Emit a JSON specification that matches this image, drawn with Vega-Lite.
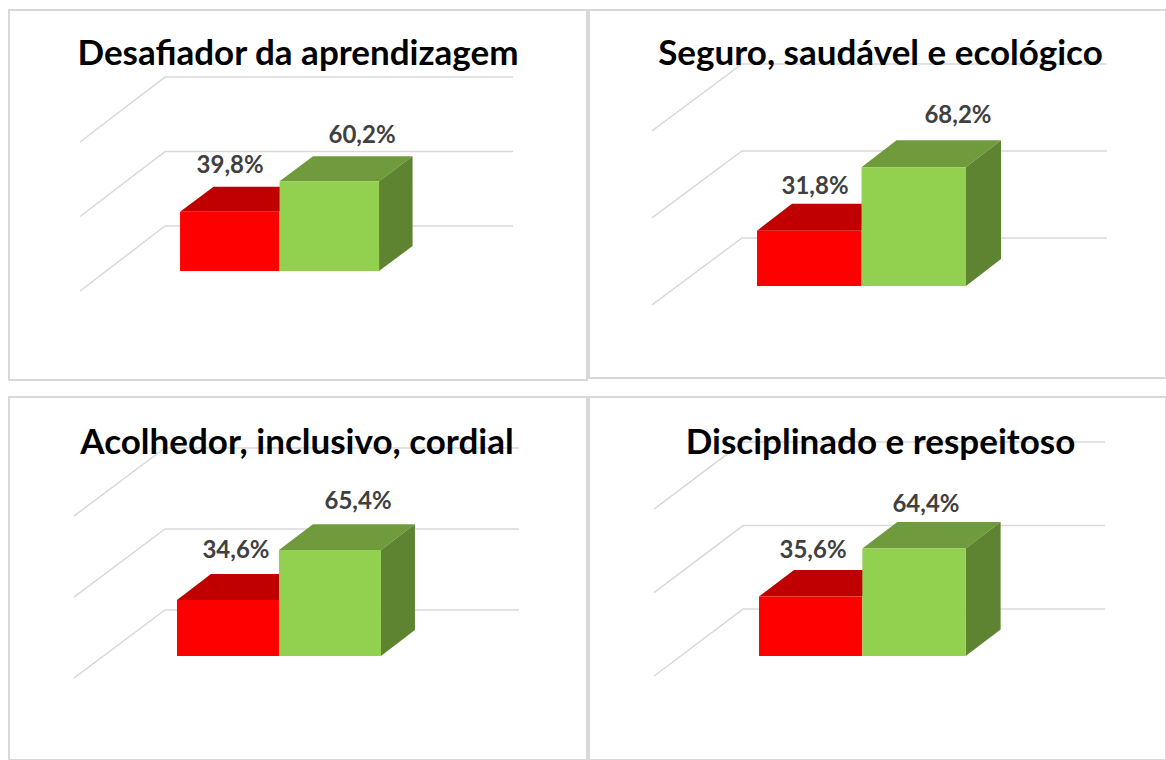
{
"$schema":"https://vega.github.io/schema/vega-lite/v6.json",
"background":"white",
"padding":{"left":8,"top":9,"right":0,"bottom":0},
"bounds":"flush",
"spacing":{"row":17,"column":2},
"columns":2,
"resolve":{"scale":{"color":"independent","fill":"independent"},"legend":{"color":"independent","fill":"independent"}},
"config":{"view":{"stroke":"#D9D9D9","strokeWidth":2},"legend":{"padding":0,"titlePadding":0,"symbolType":"square","symbolSize":169,"symbolStrokeWidth":0,"labelOffset":5,"labelFont":"Lato","labelFontWeight":"bold","labelFontSize":17,"labelColor":"#595959","direction":"horizontal"},"title":{"font":"Lato","fontWeight":"bold","fontSize":35,"color":"#000000","anchor":"middle","frame":"group","baseline":"alphabetic"}},
"concat":[
{"width":578,"height":370,
"title":{"text":"Desafiador da aprendizagem","offset":-62},
"data":{"values":[{"serie":"S + I","value":39.8,"label":"39,8%"},{"serie":"B + MB","value":60.2,"label":"60,2%"}]},
"transform":[{"calculate":"datum.serie==='S + I'?0:1","as":"idx"}],
"encoding":{"x":{"field":"x","type":"quantitative","axis":null,"scale":{"domain":[-1.719,4.09],"nice":false,"zero":false}},"y":{"field":"yt","type":"quantitative","axis":null,"scale":{"domain":[-73.15,175.2],"nice":false,"zero":false}}},
"layer":[
{"data":{"values":[{"level":0},{"level":50},{"level":100}]},
"transform":[{"calculate":"[-1.005,-0.151,3.347]","as":"x"},{"calculate":"[-13.4,30.2,30.2]","as":"a"},{"flatten":["x","a"]},{"calculate":"datum.level+datum.a","as":"yt"}],
"mark":{"type":"line","color":"#D9D9D9","strokeWidth":1.5},
"encoding":{"detail":{"field":"level"},"order":{"field":"x","type":"quantitative"}}},
{"transform":[{"calculate":"[0,0.337,1,1.337]","as":"u"},{"calculate":"[0,16.8,16.8,16.8]","as":"a"},{"calculate":"[0,0,0,16.8]","as":"b"},{"flatten":["u","a","b"]},{"calculate":"datum.idx+datum.u","as":"x"},{"calculate":"datum.value+datum.a","as":"yt"},{"calculate":"datum.value+datum.b","as":"yb"}],
"mark":{"type":"area"},
"encoding":{"y2":{"field":"yb"},"fill":{"field":"serie","legend":null,"scale":{"domain":["S + I","B + MB"],"range":["#C00000","#6F9B3C"]}}}},
{"transform":[{"filter":"datum.idx===1"},{"calculate":"[1,1.337]","as":"u"},{"calculate":"[0,16.8]","as":"a"},{"flatten":["u","a"]},{"calculate":"datum.idx+datum.u","as":"x"},{"calculate":"datum.value+datum.a","as":"yt"},{"calculate":"datum.a","as":"yb"}],
"mark":{"type":"area","color":"#5E8431"},
"encoding":{"y2":{"field":"yb"}}},
{"transform":[{"calculate":"datum.idx","as":"x"},{"calculate":"datum.idx+1","as":"xe"},{"calculate":"datum.value","as":"yt"},{"calculate":"0","as":"yb"}],
"mark":{"type":"rect"},
"encoding":{"x2":{"field":"xe"},"y2":{"field":"yb"},"color":{"field":"serie","type":"nominal","sort":null,"scale":{"domain":["S + I","B + MB"],"range":["#FF0000","#92D050"]},"legend":{"title":null,"orient":"none","legendX":179,"legendY":321,"columnPadding":58}}}},
{"transform":[{"calculate":"[0.503,1.829][datum.idx]","as":"x"},{"calculate":"datum.value+[30.7,30.4][datum.idx]","as":"yt"}],
"mark":{"type":"text","font":"Lato","fontWeight":"bold","fontSize":24,"color":"#404040","baseline":"middle"},
"encoding":{"text":{"field":"label"}}}
]},
{"width":577,"height":368,
"title":{"text":"Seguro, saudável e ecológico","offset":-62,"dx":3},
"data":{"values":[{"serie":"S + I","value":31.8,"label":"31,8%"},{"serie":"B + MB","value":68.2,"label":"68,2%"}]},
"transform":[{"calculate":"datum.serie==='S + I'?0:1","as":"idx"}],
"encoding":{"x":{"field":"x","type":"quantitative","axis":null,"scale":{"domain":[-1.608,3.914],"nice":false,"zero":false}},"y":{"field":"yt","type":"quantitative","axis":null,"scale":{"domain":[-52.9,158.6],"nice":false,"zero":false}}},
"layer":[
{"data":{"values":[{"level":0},{"level":50},{"level":100}]},
"transform":[{"calculate":"[-1.005,-0.144,3.349]","as":"x"},{"calculate":"[-10.9,27.6,27.6]","as":"a"},{"flatten":["x","a"]},{"calculate":"datum.level+datum.a","as":"yt"}],
"mark":{"type":"line","color":"#D9D9D9","strokeWidth":1.5},
"encoding":{"detail":{"field":"level"},"order":{"field":"x","type":"quantitative"}}},
{"transform":[{"calculate":"[0,0.335,1,1.335]","as":"u"},{"calculate":"[0,15.5,15.5,15.5]","as":"a"},{"calculate":"[0,0,0,15.5]","as":"b"},{"flatten":["u","a","b"]},{"calculate":"datum.idx+datum.u","as":"x"},{"calculate":"datum.value+datum.a","as":"yt"},{"calculate":"datum.value+datum.b","as":"yb"}],
"mark":{"type":"area"},
"encoding":{"y2":{"field":"yb"},"fill":{"field":"serie","legend":null,"scale":{"domain":["S + I","B + MB"],"range":["#C00000","#6F9B3C"]}}}},
{"transform":[{"filter":"datum.idx===1"},{"calculate":"[1,1.335]","as":"u"},{"calculate":"[0,15.5]","as":"a"},{"flatten":["u","a"]},{"calculate":"datum.idx+datum.u","as":"x"},{"calculate":"datum.value+datum.a","as":"yt"},{"calculate":"datum.a","as":"yb"}],
"mark":{"type":"area","color":"#5E8431"},
"encoding":{"y2":{"field":"yb"}}},
{"transform":[{"calculate":"datum.idx","as":"x"},{"calculate":"datum.idx+1","as":"xe"},{"calculate":"datum.value","as":"yt"},{"calculate":"0","as":"yb"}],
"mark":{"type":"rect"},
"encoding":{"x2":{"field":"xe"},"y2":{"field":"yb"},"color":{"field":"serie","type":"nominal","sort":null,"scale":{"domain":["S + I","B + MB"],"range":["#FF0000","#92D050"]},"legend":{"title":null,"orient":"none","legendX":201,"legendY":320,"columnPadding":41}}}},
{"transform":[{"calculate":"[0.555,1.923][datum.idx]","as":"x"},{"calculate":"datum.value+[25.3,29.3][datum.idx]","as":"yt"}],
"mark":{"type":"text","font":"Lato","fontWeight":"bold","fontSize":24,"color":"#404040","baseline":"middle"},
"encoding":{"text":{"field":"label"}}}
]},
{"width":578,"height":363,
"title":{"text":"Acolhedor, inclusivo, cordial","offset":-64,"dx":-1},
"data":{"values":[{"serie":"S + I","value":34.6,"label":"34,6%"},{"serie":"B + MB","value":65.4,"label":"65,4%"}]},
"transform":[{"calculate":"datum.serie==='S + I'?0:1","as":"idx"}],
"encoding":{"x":{"field":"x","type":"quantitative","axis":null,"scale":{"domain":[-1.647,4.02],"nice":false,"zero":false}},"y":{"field":"yt","type":"quantitative","axis":null,"scale":{"domain":[-64.2,159.9],"nice":false,"zero":false}}},
"layer":[
{"data":{"values":[{"level":0},{"level":50},{"level":100}]},
"transform":[{"calculate":"[-1.01,-0.118,3.353]","as":"x"},{"calculate":"[-13.6,28.4,28.4]","as":"a"},{"flatten":["x","a"]},{"calculate":"datum.level+datum.a","as":"yt"}],
"mark":{"type":"line","color":"#D9D9D9","strokeWidth":1.5},
"encoding":{"detail":{"field":"level"},"order":{"field":"x","type":"quantitative"}}},
{"transform":[{"calculate":"[0,0.333,1,1.333]","as":"u"},{"calculate":"[0,16,16,16]","as":"a"},{"calculate":"[0,0,0,16]","as":"b"},{"flatten":["u","a","b"]},{"calculate":"datum.idx+datum.u","as":"x"},{"calculate":"datum.value+datum.a","as":"yt"},{"calculate":"datum.value+datum.b","as":"yb"}],
"mark":{"type":"area"},
"encoding":{"y2":{"field":"yb"},"fill":{"field":"serie","legend":null,"scale":{"domain":["S + I","B + MB"],"range":["#C00000","#6F9B3C"]}}}},
{"transform":[{"filter":"datum.idx===1"},{"calculate":"[1,1.333]","as":"u"},{"calculate":"[0,16]","as":"a"},{"flatten":["u","a"]},{"calculate":"datum.idx+datum.u","as":"x"},{"calculate":"datum.value+datum.a","as":"yt"},{"calculate":"datum.a","as":"yb"}],
"mark":{"type":"area","color":"#5E8431"},
"encoding":{"y2":{"field":"yb"}}},
{"transform":[{"calculate":"datum.idx","as":"x"},{"calculate":"datum.idx+1","as":"xe"},{"calculate":"datum.value","as":"yt"},{"calculate":"0","as":"yb"}],
"mark":{"type":"rect"},
"encoding":{"x2":{"field":"xe"},"y2":{"field":"yb"},"color":{"field":"serie","type":"nominal","sort":null,"scale":{"domain":["S + I","B + MB"],"range":["#FF0000","#92D050"]},"legend":{"title":null,"orient":"none","legendX":187,"legendY":324,"columnPadding":34}}}},
{"transform":[{"calculate":"[0.578,1.775][datum.idx]","as":"x"},{"calculate":"datum.value+[30.2,29.6][datum.idx]","as":"yt"}],
"mark":{"type":"text","font":"Lato","fontWeight":"bold","fontSize":24,"color":"#404040","baseline":"middle"},
"encoding":{"text":{"field":"label"}}}
]},
{"width":577,"height":363,
"title":{"text":"Disciplinado e respeitoso","offset":-64,"dx":3},
"data":{"values":[{"serie":"S + I","value":35.6,"label":"35,6%"},{"serie":"B + MB","value":64.4,"label":"64,4%"}]},
"transform":[{"calculate":"datum.serie==='S + I'?0:1","as":"idx"}],
"encoding":{"x":{"field":"x","type":"quantitative","axis":null,"scale":{"domain":[-1.646,3.94],"nice":false,"zero":false}},"y":{"field":"yt","type":"quantitative","axis":null,"scale":{"domain":[-62.3,155.1],"nice":false,"zero":false}}},
"layer":[
{"data":{"values":[{"level":0},{"level":50},{"level":100}]},
"transform":[{"calculate":"[-1.016,-0.155,3.349]","as":"x"},{"calculate":"[-12,28.1,28.1]","as":"a"},{"flatten":["x","a"]},{"calculate":"datum.level+datum.a","as":"yt"}],
"mark":{"type":"line","color":"#D9D9D9","strokeWidth":1.5},
"encoding":{"detail":{"field":"level"},"order":{"field":"x","type":"quantitative"}}},
{"transform":[{"calculate":"[0,0.339,1,1.339]","as":"u"},{"calculate":"[0,15.9,15.9,15.9]","as":"a"},{"calculate":"[0,0,0,15.9]","as":"b"},{"flatten":["u","a","b"]},{"calculate":"datum.idx+datum.u","as":"x"},{"calculate":"datum.value+datum.a","as":"yt"},{"calculate":"datum.value+datum.b","as":"yb"}],
"mark":{"type":"area"},
"encoding":{"y2":{"field":"yb"},"fill":{"field":"serie","legend":null,"scale":{"domain":["S + I","B + MB"],"range":["#C00000","#6F9B3C"]}}}},
{"transform":[{"filter":"datum.idx===1"},{"calculate":"[1,1.339]","as":"u"},{"calculate":"[0,15.9]","as":"a"},{"flatten":["u","a"]},{"calculate":"datum.idx+datum.u","as":"x"},{"calculate":"datum.value+datum.a","as":"yt"},{"calculate":"datum.a","as":"yb"}],
"mark":{"type":"area","color":"#5E8431"},
"encoding":{"y2":{"field":"yb"}}},
{"transform":[{"calculate":"datum.idx","as":"x"},{"calculate":"datum.idx+1","as":"xe"},{"calculate":"datum.value","as":"yt"},{"calculate":"0","as":"yb"}],
"mark":{"type":"rect"},
"encoding":{"x2":{"field":"xe"},"y2":{"field":"yb"},"color":{"field":"serie","type":"nominal","sort":null,"scale":{"domain":["S + I","B + MB"],"range":["#FF0000","#92D050"]},"legend":{"title":null,"orient":"none","legendX":203,"legendY":324,"columnPadding":28}}}},
{"transform":[{"calculate":"[0.523,1.616][datum.idx]","as":"x"},{"calculate":"datum.value+[27,26.3][datum.idx]","as":"yt"}],
"mark":{"type":"text","font":"Lato","fontWeight":"bold","fontSize":24,"color":"#404040","baseline":"middle"},
"encoding":{"text":{"field":"label"}}}
]}
]
}
